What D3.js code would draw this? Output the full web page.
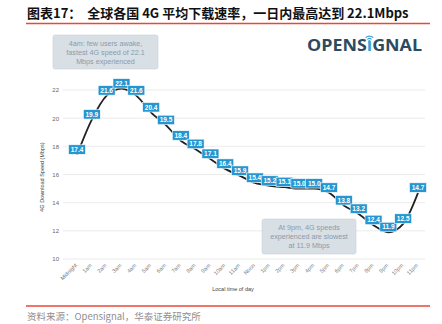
<!DOCTYPE html>
<html><head><meta charset="utf-8">
<script src="https://cdn.jsdelivr.net/npm/d3@7"></script>
<style>body{margin:0;background:#fff}svg{display:block}</style>
</head><body>
<svg id="c" width="442" height="324"></svg>
<script>
const hours = ["Midnight","1am","2am","3am","4am","5am","6am","7am","8am","9am","10am","11am","Noon","1pm","2pm","3pm","4pm","5pm","6pm","7pm","8pm","9pm","10pm","11pm"];
const speeds = [17.4,19.9,21.6,22.1,21.6,20.4,19.5,18.4,17.8,17.1,16.4,15.9,15.4,15.2,15.1,15.0,15.0,14.7,13.8,13.2,12.4,11.9,12.5,14.7];
const yTicks = [10,12,14,16,18,20,22];
const titleText = "图表17：  全球各国 4G 平均下载速率，一日内最高达到 22.1Mbps";
const sourceText = "资料来源：Opensignal，华泰证券研究所";
const note1 = ["4am: few users awake,","fastest 4G speed of 22.1","Mbps experienced"];
const note2 = ["At 9pm, 4G speeds","experienced are slowest","at 11.9 Mbps"];

const svg = d3.select("#c");
const red = "#e8473b";
// title
svg.append("text").attr("x",27).attr("y",18).attr("font-family","Noto Sans CJK SC")
  .attr("font-weight","bold").attr("font-size",13).attr("fill","#111").attr("xml:space","preserve").text(titleText);
svg.append("line").attr("x1",26).attr("x2",430).attr("y1",23.5).attr("y2",23.5).attr("stroke",red).attr("stroke-width",1.3);
svg.append("line").attr("x1",26).attr("x2",430).attr("y1",306).attr("y2",306).attr("stroke",red).attr("stroke-width",1.3);
svg.append("text").attr("x",27).attr("y",320).attr("font-family","Noto Sans CJK SC")
  .attr("font-size",9.5).attr("fill","#8f8f8f").text(sourceText);

const x = d3.scalePoint().domain(hours).range([77,418]);
const y = d3.scaleLinear().domain([10,22]).range([259,90]);

// grid
svg.append("g").selectAll("line").data(yTicks).join("line")
  .attr("x1",63).attr("x2",425).attr("y1",d=>y(d)).attr("y2",d=>y(d))
  .attr("stroke","#e6e6e6").attr("stroke-width",0.8);

const yAxis = svg.append("g").attr("transform","translate(63,0)")
  .call(d3.axisLeft(y).tickValues(yTicks).tickSize(0).tickPadding(4));
yAxis.select(".domain").remove();
yAxis.selectAll("text").attr("font-family","Liberation Sans").attr("font-size",6).attr("fill","#666");

const xAxis = svg.append("g").attr("transform","translate(0,263)")
  .call(d3.axisBottom(x).tickSize(0).tickPadding(0));
xAxis.select(".domain").remove();
xAxis.selectAll("text").attr("font-family","Liberation Sans").attr("font-size",5.5).attr("fill","#777")
  .attr("text-anchor","end").attr("dy","0.35em").attr("transform","rotate(-45) translate(-2,0)");

svg.append("text").attr("x",233).attr("y",291).attr("text-anchor","middle")
  .attr("font-family","Liberation Sans").attr("font-size",5.5).attr("fill","#444").text("Local time of day");
svg.append("text").attr("transform","translate(44,177) rotate(-90)").attr("text-anchor","middle")
  .attr("font-family","Liberation Sans").attr("font-size",5.5).attr("fill","#444").text("4G Download Speed (Mbps)");

// line
const line = d3.line().x((d,i)=>x(hours[i])).y(d=>y(d)).curve(d3.curveMonotoneX);
svg.append("path").datum(speeds).attr("d",line).attr("fill","none").attr("stroke","#222").attr("stroke-width",1.8);

// labels
const lg = svg.append("g").selectAll("g").data(speeds).join("g")
  .attr("transform",(d,i)=>`translate(${x(hours[i])},${y(d)})`);
lg.append("rect").attr("x",-8.5).attr("y",-10).attr("width",17).attr("height",9.5)
  .attr("fill","#2596cf").attr("stroke","#fff").attr("stroke-width",0.6);
lg.append("text").attr("y",-2.8).attr("text-anchor","middle").attr("font-family","Liberation Sans")
  .attr("font-weight","bold").attr("font-size",6.5).attr("fill","#fff").text(d=>d.toFixed(1));

// notes
function note(x0,y0,w,h,lines){
  svg.append("rect").attr("x",x0).attr("y",y0).attr("width",w).attr("height",h).attr("rx",2)
    .attr("fill","#d8dfe5").attr("stroke","#c9d1d8").attr("stroke-width",0.6);
  svg.append("g").selectAll("text").data(lines).join("text")
    .attr("x",x0+w/2).attr("y",(d,i)=>y0+10.5+i*9).attr("text-anchor","middle")
    .attr("font-family","Liberation Sans").attr("font-size",7.2).attr("fill","#8b9bab").text(d=>d);
}
note(53,35,105,34,note1);
note(262,219,94,35,note2);

// logo
const logo = svg.append("text").attr("x",307).attr("y",51).attr("font-family","Open Sans")
  .attr("font-weight","bold").attr("font-size",15.5).attr("fill","#2d4a5e")
  .attr("textLength",115).attr("lengthAdjust","spacingAndGlyphs");
logo.append("tspan").text("OPENS");
logo.append("tspan").attr("fill","#3aa3d8").text("ı");
logo.append("tspan").text("GNAL");
const ext = logo.node().getExtentOfChar(5);
const cx = ext.x + ext.width/2, cy = 41.5;
const arc = d3.arc();
[[0,1.4],[2.4,3.6],[4.8,6]].forEach(([r0,r1])=>{
  svg.append("path").attr("transform",`translate(${cx},${cy})`)
    .attr("d",arc({innerRadius:r0,outerRadius:r1,startAngle:-Math.PI/4,endAngle:Math.PI/4}) )
    .attr("fill","#3aa3d8");
});
svg.append("circle").attr("cx",cx).attr("cy",cy).attr("r",1.3).attr("fill","#3aa3d8");
</script>
</body></html>
